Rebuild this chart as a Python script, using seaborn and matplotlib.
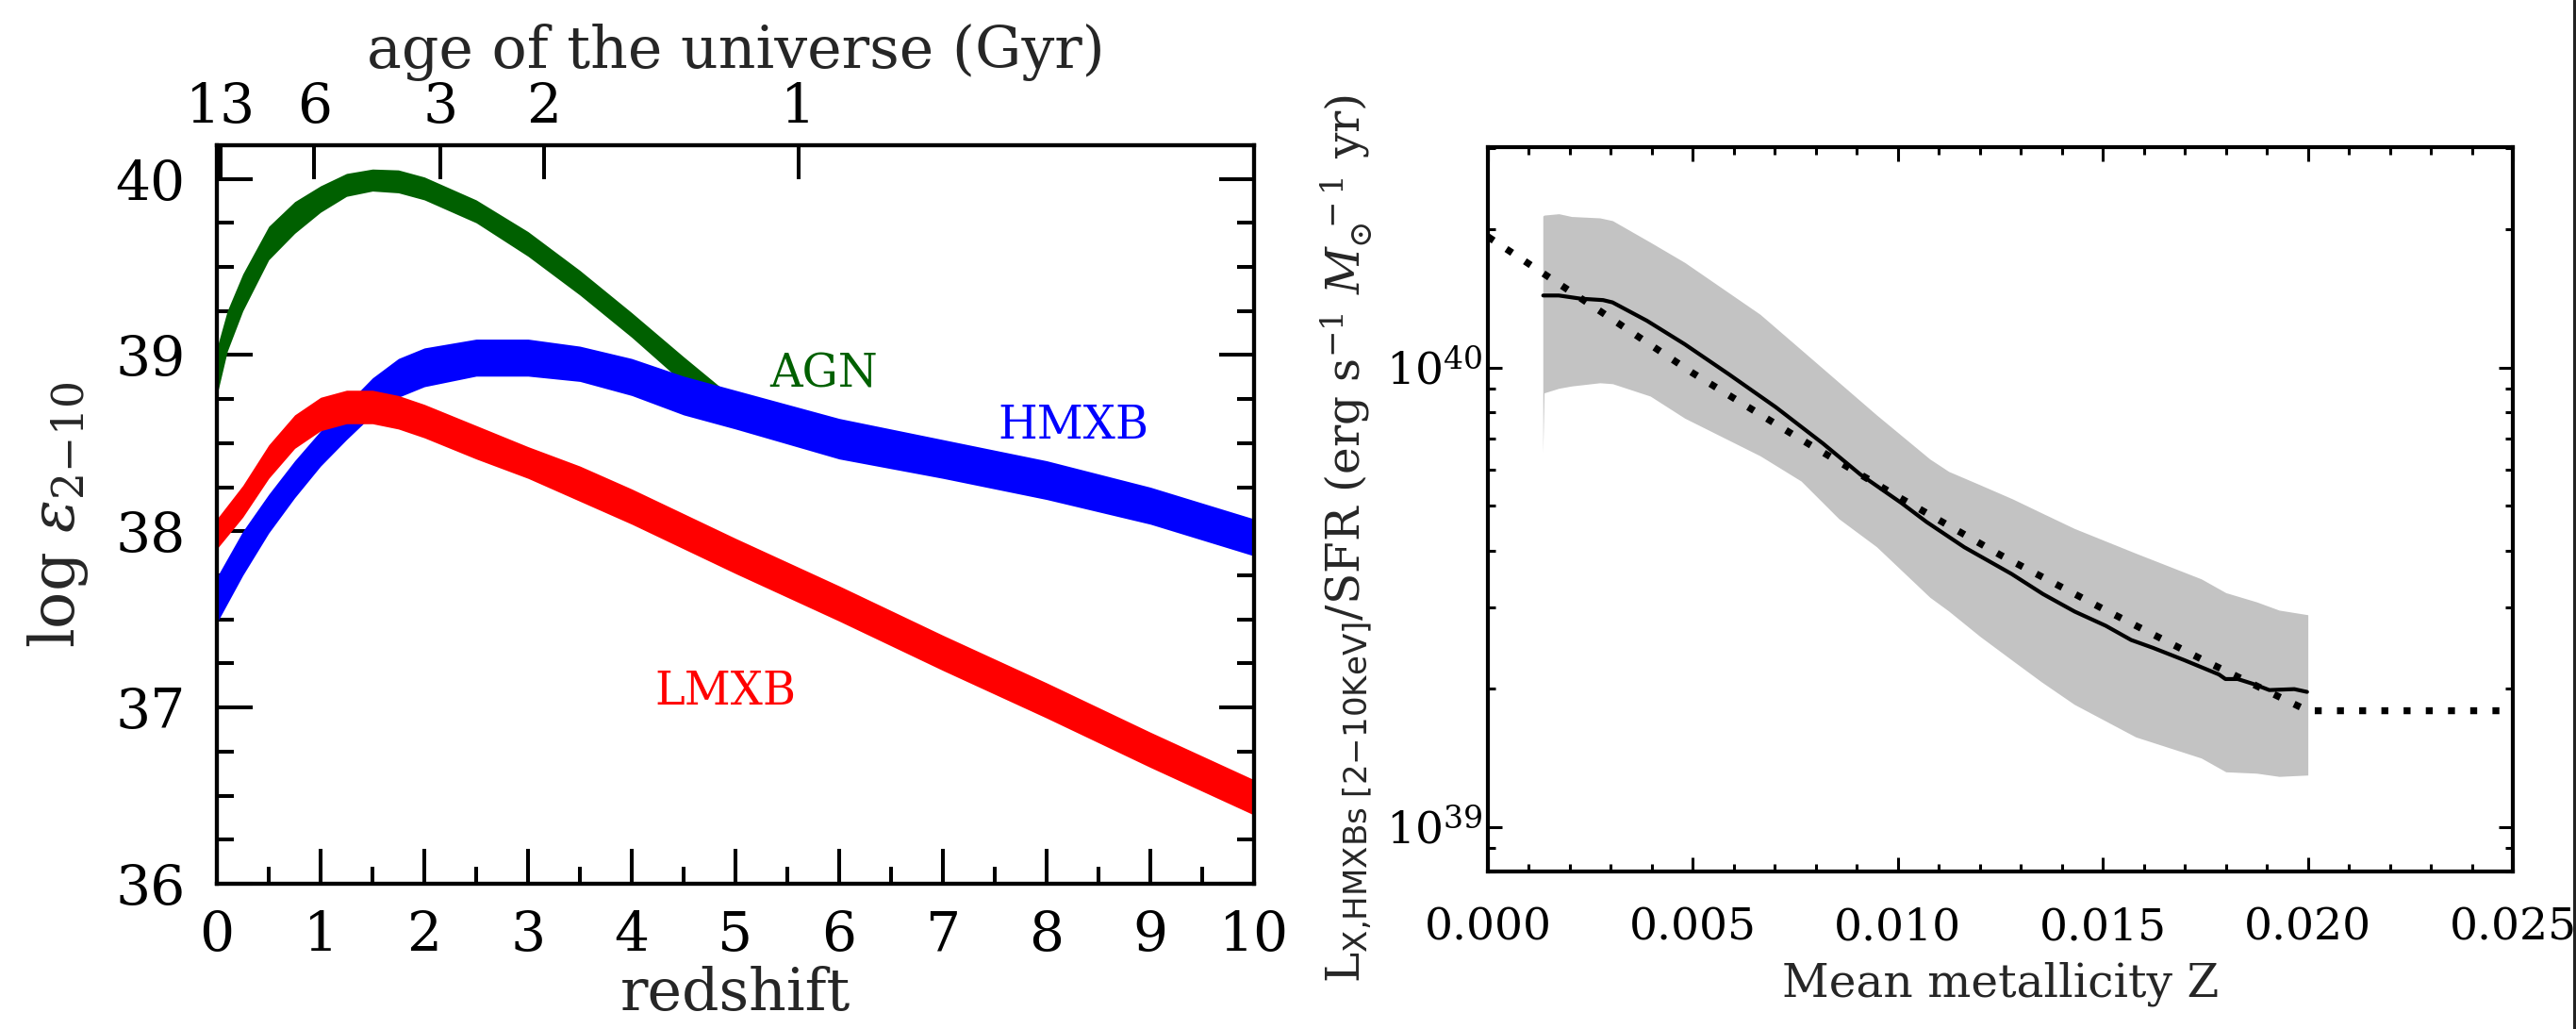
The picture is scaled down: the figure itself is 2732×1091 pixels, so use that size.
import numpy as np
import matplotlib
matplotlib.use("Agg")
import matplotlib.pyplot as plt
import seaborn as sns
from matplotlib.lines import Line2D
from matplotlib.ticker import (MultipleLocator, NullLocator, LogLocator,
                               NullFormatter, FuncFormatter, FixedLocator)

# ---------------- left panel: 2-10 keV emissivity vs redshift ----------------
z_agn = [0.0, 0.1, 0.25, 0.5, 0.75, 1.0, 1.25, 1.5, 1.75, 2.0, 2.5, 3.0, 3.5, 4.0, 4.5, 4.85]
agn_hi = [39.04, 39.25, 39.46, 39.73, 39.87, 39.96, 40.03, 40.055, 40.05, 40.01,
          39.88, 39.70, 39.48, 39.24, 38.99, 38.82]
agn_lo = [38.77, 39.02, 39.25, 39.54, 39.69, 39.81, 39.90, 39.93, 39.92, 39.88,
          39.75, 39.56, 39.34, 39.10, 38.84, 38.67]

z_xrb = [0.0, 0.25, 0.5, 0.75, 1.0, 1.25, 1.5, 1.75, 2.0, 2.5, 3.0, 3.5, 4.0, 4.5,
         5.0, 6.0, 7.0, 8.0, 9.0, 10.0]
hmxb_hi = [37.74, 38.00, 38.21, 38.40, 38.57, 38.72, 38.87, 38.98, 39.04, 39.09,
           39.09, 39.05, 38.98, 38.88, 38.80, 38.64, 38.52, 38.40, 38.25, 38.07]
hmxb_lo = [37.48, 37.75, 37.99, 38.19, 38.37, 38.52, 38.66, 38.76, 38.82, 38.88,
           38.88, 38.85, 38.77, 38.66, 38.58, 38.41, 38.30, 38.18, 38.04, 37.86]
lmxb_hi = [38.07, 38.26, 38.49, 38.66, 38.76, 38.80, 38.80, 38.77, 38.72, 38.60,
           38.48, 38.37, 38.24, 38.10, 37.96, 37.69, 37.41, 37.14, 36.86, 36.59]
lmxb_lo = [37.90, 38.08, 38.30, 38.47, 38.57, 38.61, 38.61, 38.58, 38.53, 38.41,
           38.30, 38.17, 38.04, 37.90, 37.76, 37.49, 37.21, 36.94, 36.66, 36.39]

age_ticks_gyr = [13, 6, 3, 2, 1]
H0_kms_mpc = 70.0
omega_m = 0.3

# ---------------- right panel: HMXB luminosity per SFR vs metallicity ----------------
Z_band = [0.00134, 0.00137, 0.00173, 0.00204, 0.00273, 0.00304, 0.00396, 0.0048,
          0.00664, 0.00764, 0.00856, 0.00948, 0.01078, 0.01124, 0.0120, 0.0128,
          0.0135, 0.0143, 0.0158, 0.0174, 0.0180, 0.01875, 0.0193, 0.0200]
band_hi_log = [40.330, 40.332, 40.335, 40.329, 40.326, 40.320, 40.273, 40.229,
               40.116, 40.039, 39.968, 39.897, 39.801, 39.774, 39.745, 39.714,
               39.684, 39.650, 39.596, 39.540, 39.510, 39.490, 39.472, 39.462]
band_lo_log = [39.815, 39.945, 39.955, 39.960, 39.967, 39.965, 39.938, 39.890,
               39.808, 39.753, 39.671, 39.610, 39.500, 39.470, 39.415, 39.362,
               39.316, 39.267, 39.196, 39.150, 39.120, 39.117, 39.110, 39.113]

Z_mean = [0.00135, 0.00173, 0.00227, 0.00281, 0.00304, 0.00388, 0.0048, 0.00587,
          0.00702, 0.00817, 0.00909, 0.01009, 0.01070, 0.01162, 0.01277, 0.01354,
          0.01431, 0.01507, 0.01569, 0.01622, 0.01699, 0.01783, 0.01799, 0.01829,
          0.01868, 0.01906, 0.01967, 0.01998]
mean_log = [40.157, 40.157, 40.150, 40.147, 40.142, 40.102, 40.051, 39.986,
            39.914, 39.835, 39.767, 39.705, 39.664, 39.609, 39.551, 39.507,
            39.469, 39.438, 39.407, 39.390, 39.363, 39.332, 39.322, 39.322,
            39.311, 39.298, 39.300, 39.294]

Z_fit = [0.0, 0.0025, 0.005, 0.0075, 0.010, 0.0125, 0.015, 0.0175, 0.020, 0.025]
fit_log = [40.285, 40.137, 39.988, 39.851, 39.719, 39.592, 39.475, 39.361, 39.253, 39.253]

agn_color = "#006000"
hmxb_color = "#0000ff"
lmxb_color = "#ff0000"
band_color = "#c3c3c3"


def age_gyr(z):
    """Age of a flat LCDM universe at redshift z, in Gyr."""
    hubble_time = 977.8 / H0_kms_mpc
    ol = 1.0 - omega_m
    return (2.0 / (3.0 * np.sqrt(ol))) * hubble_time * np.arcsinh(
        np.sqrt(ol / omega_m) * (1.0 + z) ** -1.5)


def z_at_age(ages):
    zz = np.linspace(0, 30, 30001)
    tt = age_gyr(zz)
    return np.interp(ages, tt[::-1], zz[::-1])


sns.set_theme(style="ticks")
plt.rcParams.update({
    "font.family": ["DejaVu Serif"],
    "mathtext.fontset": "dejavuserif",
    "axes.edgecolor": "black",
    "axes.linewidth": 3.0,
    "xtick.color": "black",
    "ytick.color": "black",
    "axes.facecolor": "white",
    "figure.facecolor": "white",
})

fig = plt.figure(figsize=(27.32, 10.91), dpi=100)
ax1 = fig.add_axes([0.08419, 0.14115, 0.40264, 0.71769])
ax2 = fig.add_axes([0.57760, 0.15307, 0.39788, 0.70394])

# ---- left panel ----
ax1.fill_between(z_agn, agn_lo, agn_hi, color=agn_color, lw=0)
ax1.fill_between(z_xrb, hmxb_lo, hmxb_hi, color=hmxb_color, lw=0)
ax1.fill_between(z_xrb, lmxb_lo, lmxb_hi, color=lmxb_color, lw=0)

ax1.set_xlim(0, 10)
ax1.set_ylim(36, 40.19)
ax1.xaxis.set_major_locator(MultipleLocator(1))
ax1.xaxis.set_minor_locator(MultipleLocator(0.5))
ax1.yaxis.set_major_locator(MultipleLocator(1))
ax1.yaxis.set_minor_locator(MultipleLocator(0.25))
ax1.tick_params(which="both", direction="in", top=False, right=True, width=2.9,
                labelsize=42)
ax1.tick_params(which="major", length=27)
ax1.tick_params(which="minor", length=13)
ax1.tick_params(axis="x", pad=19.5)
ax1.tick_params(axis="y", pad=24)
ax1.set_xlabel("redshift", fontsize=44.5, labelpad=3)
ax1.set_ylabel(r"log $\epsilon_{2{-}10}$", fontsize=47)
ax1.yaxis.set_label_coords(-0.122, 0.50)

ax1.text(5.85, 38.89, "AGN", color=agn_color, fontsize=34.5, ha="center", va="center")
ax1.text(8.26, 38.60, "HMXB", color=hmxb_color, fontsize=34.5, ha="center", va="center")
ax1.text(4.90, 37.09, "LMXB", color=lmxb_color, fontsize=34.5, ha="center", va="center")

# top axis: cosmic age
ax1t = ax1.twiny()
ax1t.set_xlim(ax1.get_xlim())
ax1t.xaxis.set_major_locator(FixedLocator(z_at_age(age_ticks_gyr)))
ax1t.set_xticklabels([str(a) for a in age_ticks_gyr])
ax1t.xaxis.set_minor_locator(NullLocator())
ax1t.tick_params(axis="x", which="major", direction="in", length=26, width=2.9,
                 labelsize=42, pad=8.5)
ax1t.set_xlabel("age of the universe (Gyr)", fontsize=44.5, labelpad=10)
for sp in ax1t.spines.values():
    sp.set_linewidth(3.0)

# ---- right panel ----
Zb = np.array(Z_band)
ax2.fill_between(Zb, 10 ** np.array(band_lo_log), 10 ** np.array(band_hi_log),
                 color=band_color, lw=0)
sns.lineplot(x=Z_mean, y=10 ** np.array(mean_log), ax=ax2, color="black",
             linewidth=3.0, estimator=None, sort=False)
sns.lineplot(x=Z_fit, y=10 ** np.array(fit_log), ax=ax2, color="black",
             linewidth=5.3, estimator=None, sort=False)
fit_line = ax2.lines[-1]
fit_line.set_linestyle((0, (1.0, 2.2)))
fit_line.set_dash_capstyle("butt")

ax2.set_yscale("log")
ax2.set_xlim(0, 0.025)
ax2.set_ylim(10 ** 38.903, 10 ** 40.48)
ax2.xaxis.set_major_locator(MultipleLocator(0.005))
ax2.xaxis.set_minor_locator(MultipleLocator(0.001))
ax2.xaxis.set_major_formatter(FuncFormatter(lambda v, p: f"{v:.3f}"))
ax2.yaxis.set_major_locator(LogLocator(base=10, numticks=10))
ax2.yaxis.set_minor_locator(LogLocator(base=10, subs=np.arange(2, 10), numticks=20))
ax2.yaxis.set_minor_formatter(NullFormatter())
ax2.tick_params(which="both", direction="in", top=True, right=True, width=2.2,
                labelsize=34)
ax2.tick_params(which="major", length=11)
ax2.tick_params(which="minor", length=6)
ax2.tick_params(axis="x", pad=27)
ax2.tick_params(axis="y", pad=4)
ax2.set_xlabel("Mean metallicity Z", fontsize=35, labelpad=9)
ax2.set_ylabel(r"L$_{\mathsf{X{,}HMXBs\ [2{-}10KeV]}}$/SFR (erg s$^{-1}$ $M_{\odot}^{\ -1}$ yr)",
               fontsize=35)
ax2.yaxis.set_label_coords(-0.11, 0.46)
for ax in (ax1, ax2):
    for sp in ax.spines.values():
        sp.set_linewidth(3.0)
        sp.set_color("black")

fig.add_artist(Line2D([0.99927, 0.99927], [0, 1], transform=fig.transFigure,
                      color="#222222", lw=2.2))

fig.savefig("out.png", dpi=100)
